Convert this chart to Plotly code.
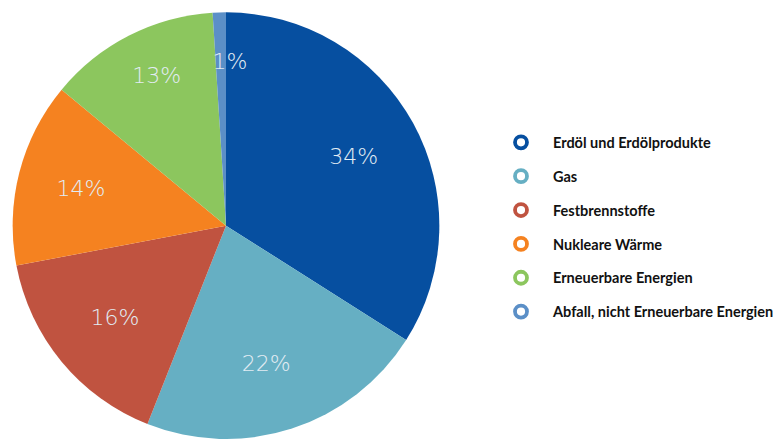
import plotly.graph_objects as go

categories = ["Erdöl und Erdölprodukte", "Gas", "Festbrennstoffe", "Nukleare Wärme",
              "Erneuerbare Energien", "Abfall, nicht Erneuerbare Energien"]
values = [34, 22, 16, 14, 13, 1]
colors = ["#064fa0", "#66afc3", "#c05340", "#f58220", "#8cc65e", "#5b8fc7"]
labels_text = ["&nbsp;&nbsp;&nbsp;&nbsp;&nbsp;&nbsp;&nbsp;&nbsp;34%<br> ", " <br>22%", "16%", "14%",
               "13%<br> ", " <br> <br> <br>&nbsp;&nbsp;&nbsp;1%"]

fig = go.Figure()
fig.add_trace(go.Pie(
    labels=categories, values=values, sort=False, direction="clockwise", rotation=0,
    marker=dict(colors=colors, line=dict(width=0)),
    text=labels_text, textinfo="text", textposition="inside",
    insidetextorientation="horizontal",
    textfont=dict(family="DejaVu Sans", size=22, color="#e2ecf3", weight=200),
    showlegend=False, hoverinfo="label+percent",
    domain=dict(x=[12/783, 440/783], y=[0.0, 0.972]),
))
for c, col in zip(categories, colors):
    fig.add_trace(go.Scatter(
        x=[None], y=[None], mode="markers", name=c, legendgroup=c,
        marker=dict(symbol="circle-open", size=12, color=col, line=dict(width=3.8, color=col)),
    ))

fig.update_layout(
    width=783, height=439, margin=dict(l=0, r=0, t=0, b=0),
    paper_bgcolor="white", plot_bgcolor="white",
    uniformtext=dict(mode="show", minsize=22),
    xaxis=dict(visible=False), yaxis=dict(visible=False),
    legend=dict(x=489/783, y=0.482, xanchor="left", yanchor="middle",
                font=dict(family="Lato", size=14.5, color="#111111", weight="bold"),
                itemwidth=54, tracegroupgap=12, bgcolor="rgba(0,0,0,0)"),
)
fig.write_html("out.html")
